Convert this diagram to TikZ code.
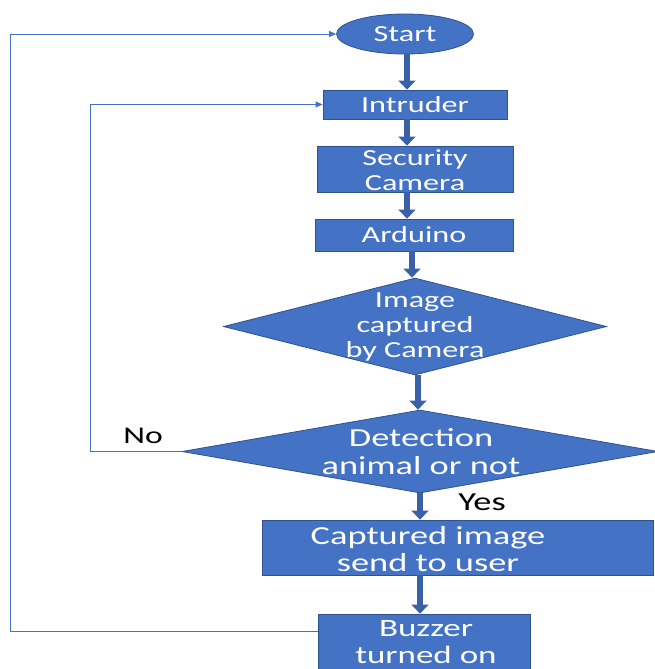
\documentclass[tikz,border=0pt]{standalone}
\usepackage{fontspec}
\setmainfont{Carlito}
\newfontfamily\widefont[FakeStretch=1.4]{Carlito}
\usetikzlibrary{shapes.geometric,arrows.meta}
\definecolor{officeblue}{HTML}{4472C4}
\definecolor{edgeblue}{HTML}{2F528F}
\definecolor{thinblue}{HTML}{4472C4}
\tikzset{
  boxnode/.style={draw=edgeblue, fill=officeblue, line width=0.8pt, inner sep=0pt},
  txt/.style={text=white, font=\widefont\fontsize{23}{25}\selectfont, align=center, inner sep=0pt},
  lbl/.style={text=black, font=\widefont\fontsize{24}{26}\selectfont, inner sep=0pt},
  flow/.style={line width=6pt, officeblue!85!black, -{Triangle[width=17pt,length=9pt]}},
  back/.style={line width=0.9pt, thinblue, -{Triangle[width=6pt,length=7pt]}}
}
\begin{document}
\begin{tikzpicture}[x=1pt,y=-1pt]
\useasboundingbox (0,0) rectangle (655,669);
\clip (0,0) rectangle (655,669);
% shapes
\node[boxnode, ellipse, minimum width=137, minimum height=40] (start) at (405,34) {};
\node[txt] (starttxt) at (405,34) {Start};
\node[boxnode, rectangle, minimum width=184, minimum height=29] (intruder) at (415,104.5) {};
\node[txt] (intrudertxt) at (415,104.5) {Intruder};
\node[boxnode, rectangle, minimum width=196, minimum height=46] (cam) at (415,169) {};
\node[txt] (camtxt) at (415,170) {Security\\Camera};
\node[boxnode, rectangle, minimum width=198, minimum height=32] (ard) at (414,235) {};
\node[txt] (ardtxt) at (414,235) {Arduino};
\node[boxnode, diamond, minimum width=383, minimum height=97] (d1) at (415,326.5) {};
\node[txt] (d1txt) at (415,327) {Image\\captured\\by Camera};
\node[boxnode, diamond, minimum width=476, minimum height=83] (d2) at (420,451.5) {};
\node[txt, font=\widefont\fontsize{26}{28}\selectfont] (d2txt) at (421,452) {Detection\\animal or not};
\node[boxnode, rectangle, minimum width=391, minimum height=55] (cap) at (457.5,547.5) {};
\node[txt, font=\widefont\fontsize{26}{27}\selectfont] (captxt) at (428,549.5) {Captured image\\send to user};
\node[boxnode, rectangle, minimum width=212, minimum height=62] (buz) at (424,645) {};
\node[txt, font=\widefont\fontsize{25}{27}\selectfont] (buztxt) at (426,642) {Buzzer\\turned on};
% labels
\node[lbl] (no) at (143,436) {No};
\node[lbl, font=\widefont\fontsize{26}{28}\selectfont] (yes) at (482,502) {Yes};
% main flow arrows
\draw[flow] ([xshift=2pt]start.south) -- ([xshift=2pt]start.south |- intruder.north);
\draw[flow] ([xshift=-8pt]intruder.south) -- ([xshift=-8pt]intruder.south |- cam.north);
\draw[flow] ([xshift=-8pt]cam.south) -- ([xshift=-8pt]cam.south |- ard.north);
\draw[flow] ([xshift=-2pt]ard.south) -- ([xshift=-2pt]ard.south |- d1.north);
\draw[flow] ([xshift=3pt]d1.south) -- ([xshift=3pt]d1.south |- d2.north);
\draw[flow] (d2.south) -- (d2.south |- cap.north);
\draw[flow] (d2.south |- cap.south) -- (d2.south |- buz.north);
% feedback lines
\coordinate (nocorner) at (90,451.5);
\draw[back] (d2.west) -- (nocorner) |- (intruder.west);
\coordinate (fbcorner) at (10,631);
\draw[back] (buz.west |- fbcorner) -- (fbcorner) |- (start.west);
\end{tikzpicture}
\end{document}
